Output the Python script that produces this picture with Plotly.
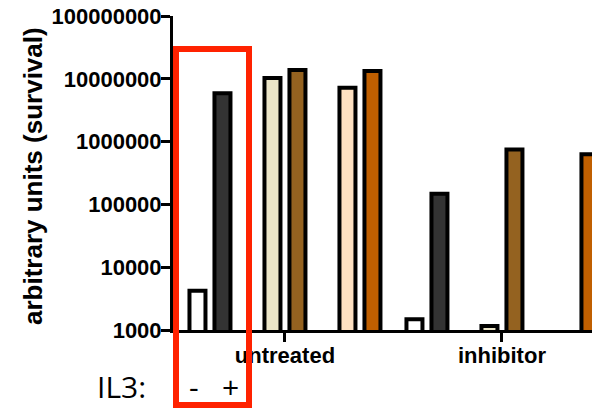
import plotly.graph_objects as go

categories = ["untreated", "inhibitor"]
series_names = ["IL3 - (ctrl)", "IL3 + (ctrl)", "IL3 - (A)", "IL3 + (A)", "IL3 - (B)", "IL3 + (B)"]
series_values = [
    [4200, 1480],
    [5.9e6, 1.48e5],
    [1.03e7, 1160],
    [1.38e7, 7.5e5],
    [7.2e6, None],
    [1.33e7, 6.3e5],
]
series_colors = ["#ffffff", "#333333", "#ebe5c8", "#946220", "#fde0c1", "#c05f00"]
slots = [0, 1, 3, 4, 6, 7]
y_tickvals = [1e3, 1e4, 1e5, 1e6, 1e7, 1e8]
y_ticktext = ["1000", "10000", "100000", "1000000", "10000000", "100000000"]

W, H = 592, 409
ML, MR, MT, MB = 173, 0, 16, 79
pw = W - ML - MR
ph = H - MT - MB

slot_w = 25 / 217
bar_w = 16 / 217
xpos = list(range(len(categories)))

fig = go.Figure()
for name, vals, col, s in zip(series_names, series_values, series_colors, slots):
    fig.add_trace(go.Bar(
        x=xpos, y=vals, name=name,
        width=bar_w,
        offset=(s - 3.5) * slot_w - bar_w / 2,
        marker=dict(color=col, line=dict(color="black", width=4)),
    ))

def px(x):
    return (x - ML) / pw

def py(y):
    return ((MT + ph) - y) / ph

fig.update_layout(
    width=W, height=H,
    margin=dict(l=ML, r=MR, t=MT, b=MB, autoexpand=False),
    barmode="overlay",
    showlegend=False,
    plot_bgcolor="white", paper_bgcolor="white",
    font=dict(family="Liberation Sans", color="black"),
    xaxis=dict(
        range=[-0.516, 1.415],
        tickvals=xpos, ticktext=categories,
        showline=True, linecolor="black", linewidth=3,
        ticks="outside", ticklen=9, tickwidth=3, tickcolor="black",
        ticklabelstandoff=-5,
        tickfont=dict(size=22, weight="bold", family="Liberation Sans"),
        showgrid=False, zeroline=False,
    ),
    yaxis=dict(
        type="log", range=[3, 8],
        tickvals=y_tickvals, ticktext=y_ticktext,
        showline=True, linecolor="black", linewidth=3,
        ticks="outside", ticklen=9, tickwidth=3, tickcolor="black",
        ticklabelstandoff=-5,
        tickfont=dict(size=22, weight="bold", family="Liberation Sans"),
        showgrid=False, zeroline=False,
    ),
    annotations=[
        dict(text="arbitrary units (survival)", textangle=-90, xref="paper", yref="paper",
             x=px(33), y=py(176), xanchor="center", yanchor="middle", showarrow=False,
             font=dict(size=26, weight="bold", family="Liberation Sans")),
        dict(text="IL3:", xref="paper", yref="paper", x=px(121), y=py(386),
             xanchor="center", yanchor="middle", showarrow=False,
             font=dict(size=30, family="Open Sans")),
        dict(text="-", xref="paper", yref="paper", x=px(194), y=py(386),
             xanchor="center", yanchor="middle", showarrow=False,
             font=dict(size=30, family="Open Sans")),
        dict(text="+", xref="paper", yref="paper", x=px(230), y=py(386),
             xanchor="center", yanchor="middle", showarrow=False,
             font=dict(size=30, family="Open Sans")),
    ],
    shapes=[
        dict(type="rect", xref="paper", yref="paper",
             x0=px(176), x1=px(249), y0=py(405), y1=py(49),
             line=dict(color="#ff2200", width=6), fillcolor="rgba(0,0,0,0)", layer="above"),
    ],
)

fig.write_html("out.html", config={"displayModeBar": False},
               post_script="document.body.style.margin='0';document.body.style.overflow='hidden';")
